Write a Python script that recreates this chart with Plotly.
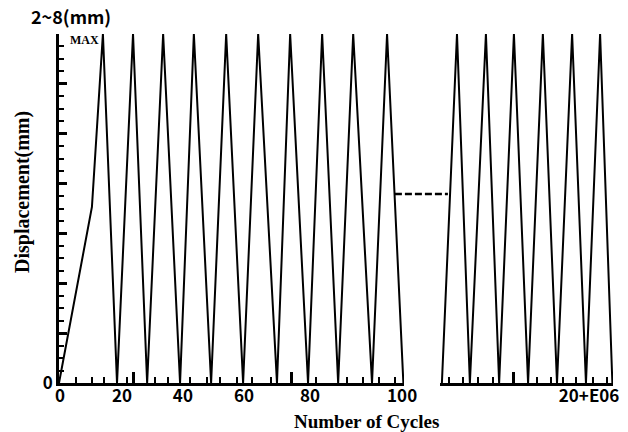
import plotly.graph_objects as go

# ---- data (schematic loading history) ----
left_cycles = [0, 10.5, 14.0, 18.5, 23.6, 28.1, 33.2, 38.6, 43.0, 48.5, 53.3, 58.7,
               63.5, 69.5, 73.7, 79.4, 83.9, 89.0, 93.8, 99.8, 104.6, 109.8]
left_disp = [0, 3.53, 7, 0, 7, 0, 7, 0, 7, 0, 7, 0, 7, 0, 7, 0, 7, 0, 7, 0, 7, 0]

right_cycles = [0.6, 5.4, 9.5, 14.6, 18.8, 23.5, 28.0, 32.7, 37.2, 42.0, 46.4, 50.9, 54.8]
right_disp = [0, 7, 0, 7, 0, 7, 0, 7, 0, 7, 0, 7, 0]

gap_x = [107.1, 124.0]
gap_y = [3.79, 3.79]

left_tick_text = ["0", "20", "40", "60", "80", "100"]
left_tick_vals = [0.3, 20.1, 39.5, 59.0, 80.0, 109.4]
left_minor_ticks = [5.4, 10.5, 14.3, 21.7, 30.6, 34.8, 41.8, 47.2, 51.3, 56.8, 61.5,
                    67.6, 82.0, 91.8, 96.9, 102.0, 107.1]
left_major_ticks = [23.9, 74.0]

right_tick_text = ["20+E06"]
right_tick_vals = [47.4]
right_minor_ticks = [2.9, 7.3, 12.1, 16.9, 30.8, 35.3, 39.1, 43.2, 48.6, 53.1]
right_major_ticks = [23.5]

y_tick_vals = [0, 1, 2, 3, 4, 5, 6, 7]
y_tick_text = ["0", "", "", "", "", "", "", ""]

W, H = 628, 432
sans = "Noto Sans CJK KR"
serif = "Liberation Serif"
line = dict(color="black", width=2)

fig = go.Figure()
fig.add_trace(go.Scatter(x=left_cycles, y=left_disp, mode="lines", line=line,
                         xaxis="x", yaxis="y", showlegend=False))
fig.add_trace(go.Scatter(x=right_cycles, y=right_disp, mode="lines", line=line,
                         xaxis="x2", yaxis="y", showlegend=False))
fig.add_trace(go.Scatter(x=gap_x, y=gap_y, mode="lines",
                         line=dict(color="black", width=2.5, dash="7px,3px"),
                         xaxis="x4", yaxis="y", showlegend=False))
fig.add_trace(go.Scatter(x=[None], y=[None], xaxis="x3", yaxis="y", showlegend=False))
fig.add_trace(go.Scatter(x=[None], y=[None], xaxis="x5", yaxis="y", showlegend=False))

x0l, x1l, x0r, x1r = 59, 404, 440, 613
yb, yt = 383, 34
left_range = [0, 110]
right_range = [0, 55]
px_per_unit = (x1l - x0l) / (left_range[1] - left_range[0])

tickfont = dict(family=sans, size=17, color="black", weight="bold")
common = dict(showgrid=False, zeroline=False, anchor="y", automargin=False)

fig.update_layout(
    template="none",
    width=W, height=H,
    margin=dict(l=0, r=0, t=0, b=0, pad=0),
    paper_bgcolor="white", plot_bgcolor="rgba(0,0,0,0)",
    xaxis=dict(domain=[x0l / W, x1l / W], range=left_range, showline=True,
               linewidth=2.5, linecolor="black", tickmode="array",
               tickvals=left_tick_vals, ticktext=left_tick_text, ticks="",
               tickfont=tickfont, ticklabelstandoff=-4,
               minor=dict(tickmode="array", tickvals=left_minor_ticks, ticks="inside",
                          ticklen=6, tickwidth=1.5, tickcolor="black", showgrid=False),
               **common),
    xaxis3=dict(overlaying="x", range=left_range, tickmode="array",
                tickvals=left_major_ticks, ticks="inside", ticklen=11, tickwidth=3,
                tickcolor="black", showticklabels=False, showline=False, **common),
    xaxis2=dict(domain=[x0r / W, x1r / W], range=right_range, showline=True,
                linewidth=2.5, linecolor="black", tickmode="array",
                tickvals=right_tick_vals, ticktext=right_tick_text, ticks="",
                tickfont=tickfont, ticklabelstandoff=-4,
                minor=dict(tickmode="array", tickvals=right_minor_ticks, ticks="inside",
                           ticklen=6, tickwidth=1.5, tickcolor="black", showgrid=False),
                **common),
    xaxis5=dict(overlaying="x2", range=right_range, tickmode="array",
                tickvals=right_major_ticks, ticks="inside", ticklen=11, tickwidth=3,
                tickcolor="black", showticklabels=False, showline=False, **common),
    xaxis4=dict(domain=[x0l / W, x1r / W], range=[0, (x1r - x0l) / px_per_unit],
                visible=False, **common),
    yaxis=dict(domain=[(H - yb) / H, (H - yt) / H], range=[0, 7], anchor="x",
               automargin=False,
               showline=True, linewidth=2.5, linecolor="black", showgrid=False,
               zeroline=False, tickmode="array", tickvals=y_tick_vals,
               ticktext=y_tick_text, ticks="inside", ticklen=8, tickwidth=2.5,
               tickcolor="black", tickfont=tickfont,
               minor=dict(tick0=0, dtick=0.25, ticks="inside", ticklen=5,
                          tickwidth=1.5, tickcolor="black", showgrid=False)),
    annotations=[
        dict(text="MAX", xref="paper", yref="paper", x=84 / W, y=(H - 31) / H,
             showarrow=False, xanchor="center", yanchor="top",
             font=dict(family=serif, size=12, color="black", weight="bold")),
        dict(text="2~8(mm)", xref="paper", yref="paper", x=71 / W, y=(H - 31) / H,
             showarrow=False, xanchor="center", yanchor="bottom",
             font=dict(family=sans, size=18, color="black", weight="bold")),
        dict(text="Displacement(mm)", xref="paper", yref="paper", x=22 / W,
             y=(H - 192) / H, showarrow=False, textangle=-90,
             xanchor="center", yanchor="middle",
             font=dict(family=serif, size=20, color="black", weight="bold")),
        dict(text="Number of Cycles", xref="paper", yref="paper", x=366 / W,
             y=(H - 421) / H, showarrow=False, xanchor="center", yanchor="middle",
             font=dict(family=serif, size=19, color="black", weight="bold")),
    ],
)

fig.write_html("out.html")
